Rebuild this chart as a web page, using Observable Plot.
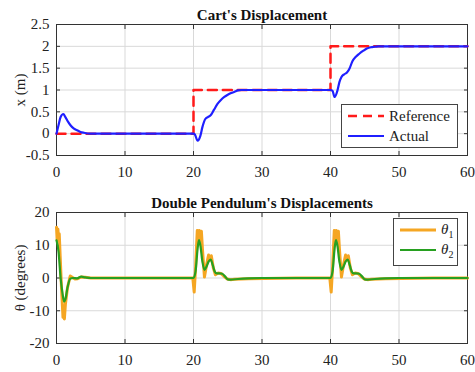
<!DOCTYPE html>
<html><head><meta charset="utf-8">
<script src="https://cdn.jsdelivr.net/npm/d3@7"></script>
<script src="https://cdn.jsdelivr.net/npm/@observablehq/plot@0.6"></script>
<style>
body{margin:0;background:#fff;font-family:"Liberation Serif",serif;}
#wrap{position:relative;width:475px;height:372px;}
.leg{position:absolute;background:#fff;border:1px solid #444;font-family:"Liberation Serif",serif;font-size:15px;color:#222;}
.row{display:flex;align-items:center;height:20px;}
.row svg{margin:0 3px 0 4px;}
</style></head>
<body><div id="wrap"></div>
<script>
// ---- data ----
const xTicks = [0,10,20,30,40,50,60];
const topYTicks = [-0.5,0,0.5,1,1.5,2,2.5];
const botYTicks = [-20,-10,0,10,20];

const refT = [0,20,20,40,40,60];
const refX = [0,0,1,1,2,2];

const actT = [0,0.3,0.6,1.0,1.3,1.7,2.1,2.5,3.0,3.5,4.0,5.0,10,15,20,20.2,20.6,21.0,21.3,21.7,22.1,22.5,23.0,23.5,24.0,24.5,25.0,25.5,26.0,26.5,27.0,30,35,40,40.3,40.6,41.0,41.3,41.6,42.0,42.4,42.8,43.2,43.7,44.2,44.8,45.3,45.9,46.5,47.0,50,55,60];
const actX = [0,0.2,0.38,0.45,0.38,0.27,0.18,0.12,0.08,0.04,0.02,0,0,0,0,-0.02,-0.16,-0.05,0.15,0.33,0.38,0.42,0.55,0.68,0.77,0.84,0.89,0.93,0.96,0.99,1.0,1,1,1,0.98,0.84,0.98,1.18,1.3,1.36,1.4,1.5,1.66,1.76,1.83,1.9,1.95,1.98,1.99,2.0,2,2,2];

const th1T = [0,0.1,0.2,0.3,0.4,0.55,0.75,0.95,1.05,1.15,1.3,1.6,2.0,2.3,2.7,3.1,3.6,4.2,5,10,15,19.9,20.1,20.3,20.55,20.7,20.85,21.0,21.15,21.3,21.6,21.9,22.2,22.4,22.6,22.9,23.2,23.6,24.0,24.4,24.9,25.4,26,28,35,39.9,40.1,40.3,40.55,40.7,40.85,41.0,41.15,41.3,41.6,41.9,42.2,42.4,42.6,42.9,43.2,43.6,44.0,44.4,44.9,45.4,46,48,55,60];
const th1V = [15.5,11.5,15,12,13.5,6,-4,-12,-9,-12.5,-8,-3,0.6,0.2,-0.3,-0.2,0.3,0.2,0,0,0,0,-4.3,3,14.5,11.5,14.5,11.5,14.3,9,0.3,4,7,5.5,6.8,3,1,1.5,1.4,0.6,-0.3,-0.5,-0.4,-0.2,0,0,-4.3,3,14.5,11.5,14.5,11.5,14.3,9,0.3,4,7,5.5,6.8,3,1,1.5,1.4,0.6,-0.3,-0.5,-0.4,-0.2,0,0];

const th2T = [0,0.3,0.6,0.9,1.1,1.3,1.6,2.0,2.4,3.0,3.6,4.2,5,10,15,20,20.3,20.6,20.8,21.0,21.3,21.6,21.9,22.2,22.5,22.8,23.1,23.4,23.8,24.2,24.6,25.0,25.4,26.5,28,30,35,40,40.3,40.6,40.8,41.0,41.3,41.6,41.9,42.2,42.5,42.8,43.1,43.4,43.8,44.2,44.6,45.0,45.4,46.5,48,50,55,60];
const th2V = [11.5,8,0,-5,-7.2,-6.5,-3,-0.2,0,-0.1,0.4,0.2,0,0,0,0,2,9,11.6,10,5,2.5,3.5,5,5.6,4,2,1.4,1.4,1.3,0.5,-0.4,-0.5,-0.3,-0.1,0,0,0,2,9,11.6,10,5,2.5,3.5,5,5.6,4,2,1.4,1.4,1.3,0.5,-0.4,-0.5,-0.3,-0.1,0,0,0];

const refData = refT.map((t,i)=>({t, v: refX[i]}));
const actData = actT.map((t,i)=>({t, v: actX[i]}));
const th1Data = th1T.map((t,i)=>({t, v: th1V[i]}));
const th2Data = th2T.map((t,i)=>({t, v: th2V[i]}));

const fmt = d => String(d);
const common = (yTicks, ylabel, title) => [
  Plot.gridX(xTicks, {stroke:"#d9d9d9", strokeOpacity:1}),
  Plot.gridY(yTicks, {stroke:"#d9d9d9", strokeOpacity:1}),
  Plot.axisX(xTicks, {anchor:"bottom", tickSize:0, tickPadding:11, tickFormat:fmt, label:null, fontSize:15}),
  Plot.axisY(yTicks, {anchor:"left", tickSize:0, tickPadding:7, tickFormat:fmt, label:ylabel, labelAnchor:"center", labelArrow:"none", labelOffset:42, fontSize:15}),
  Plot.axisX(xTicks, {anchor:"bottom", tickSize:-4, tickFormat:()=>"", label:null, stroke:"#333"}),
  Plot.axisX(xTicks, {anchor:"top", tickSize:-4, tickFormat:()=>"", label:null, stroke:"#333"}),
  Plot.axisY(yTicks, {anchor:"left", tickSize:-4, tickFormat:()=>"", label:null, stroke:"#333"}),
  Plot.axisY(yTicks, {anchor:"right", tickSize:-4, tickFormat:()=>"", label:null, stroke:"#333"}),
  Plot.frame({stroke:"#333", strokeWidth:1}),
  Plot.text([title], {text:d=>d, frameAnchor:"top", dy:-15, fontWeight:"bold", fontSize:15, fill:"#111"})
];

const topChart = Plot.plot({
  width:475, height:186, marginLeft:56, marginRight:8, marginTop:24, marginBottom:31,
  style:{fontFamily:"Liberation Serif", fontSize:"15px", color:"#222"},
  x:{domain:[0,60]}, y:{domain:[-0.5,2.5]},
  marks:[
    ...common(topYTicks, "x (m)", "Cart's Displacement"),
    Plot.line(refData, {x:"t", y:"v", stroke:"#ff1a1a", strokeWidth:2.5, strokeDasharray:"9,6"}),
    Plot.line(actData, {x:"t", y:"v", stroke:"#1f1fff", strokeWidth:2.2, curve:"monotone-x"})
  ]
});
const botChart = Plot.plot({
  width:475, height:186, marginLeft:56, marginRight:8, marginTop:26, marginBottom:29,
  style:{fontFamily:"Liberation Serif", fontSize:"15px", color:"#222"},
  x:{domain:[0,60]}, y:{domain:[-20,20]},
  marks:[
    ...common(botYTicks, "θ (degrees)", "Double Pendulum's Displacements"),
    Plot.line(th1Data, {x:"t", y:"v", stroke:"#f5a623", strokeWidth:3}),
    Plot.line(th2Data, {x:"t", y:"v", stroke:"#27a020", strokeWidth:2.2, curve:"monotone-x"})
  ]
});
const wrap = document.getElementById("wrap");
botChart.style.position="absolute"; botChart.style.top="186px"; botChart.style.left="0";
topChart.style.position="absolute"; topChart.style.top="0"; topChart.style.left="0";
wrap.appendChild(topChart); wrap.appendChild(botChart);

function legend(x,y,w,h,items){
  const d=document.createElement("div"); d.className="leg";
  d.style.left=x+"px"; d.style.top=y+"px"; d.style.width=w+"px"; d.style.height=h+"px";
  d.style.paddingTop="1px";
  for(const it of items){
    const r=document.createElement("div"); r.className="row";
    r.innerHTML=`<svg width="40" height="10"><line x1="2" x2="38" y1="5" y2="5" stroke="${it.c}" stroke-width="${it.w}" ${it.dash?`stroke-dasharray="${it.dash}"`:""}/></svg><span>${it.t}</span>`;
    d.appendChild(r);
  }
  wrap.appendChild(d);
}
legend(341,104,115,41,[{c:"#ff1a1a",w:2.5,dash:"9,6",t:"Reference"},{c:"#1f1fff",w:2.2,t:"Actual"}]);
legend(393,218,63,45,[{c:"#f5a623",w:2.8,t:"<i>θ</i><sub style='font-size:10px'>1</sub>"},{c:"#27a020",w:2.2,t:"<i>θ</i><sub style='font-size:10px'>2</sub>"}]);
</script></body></html>
